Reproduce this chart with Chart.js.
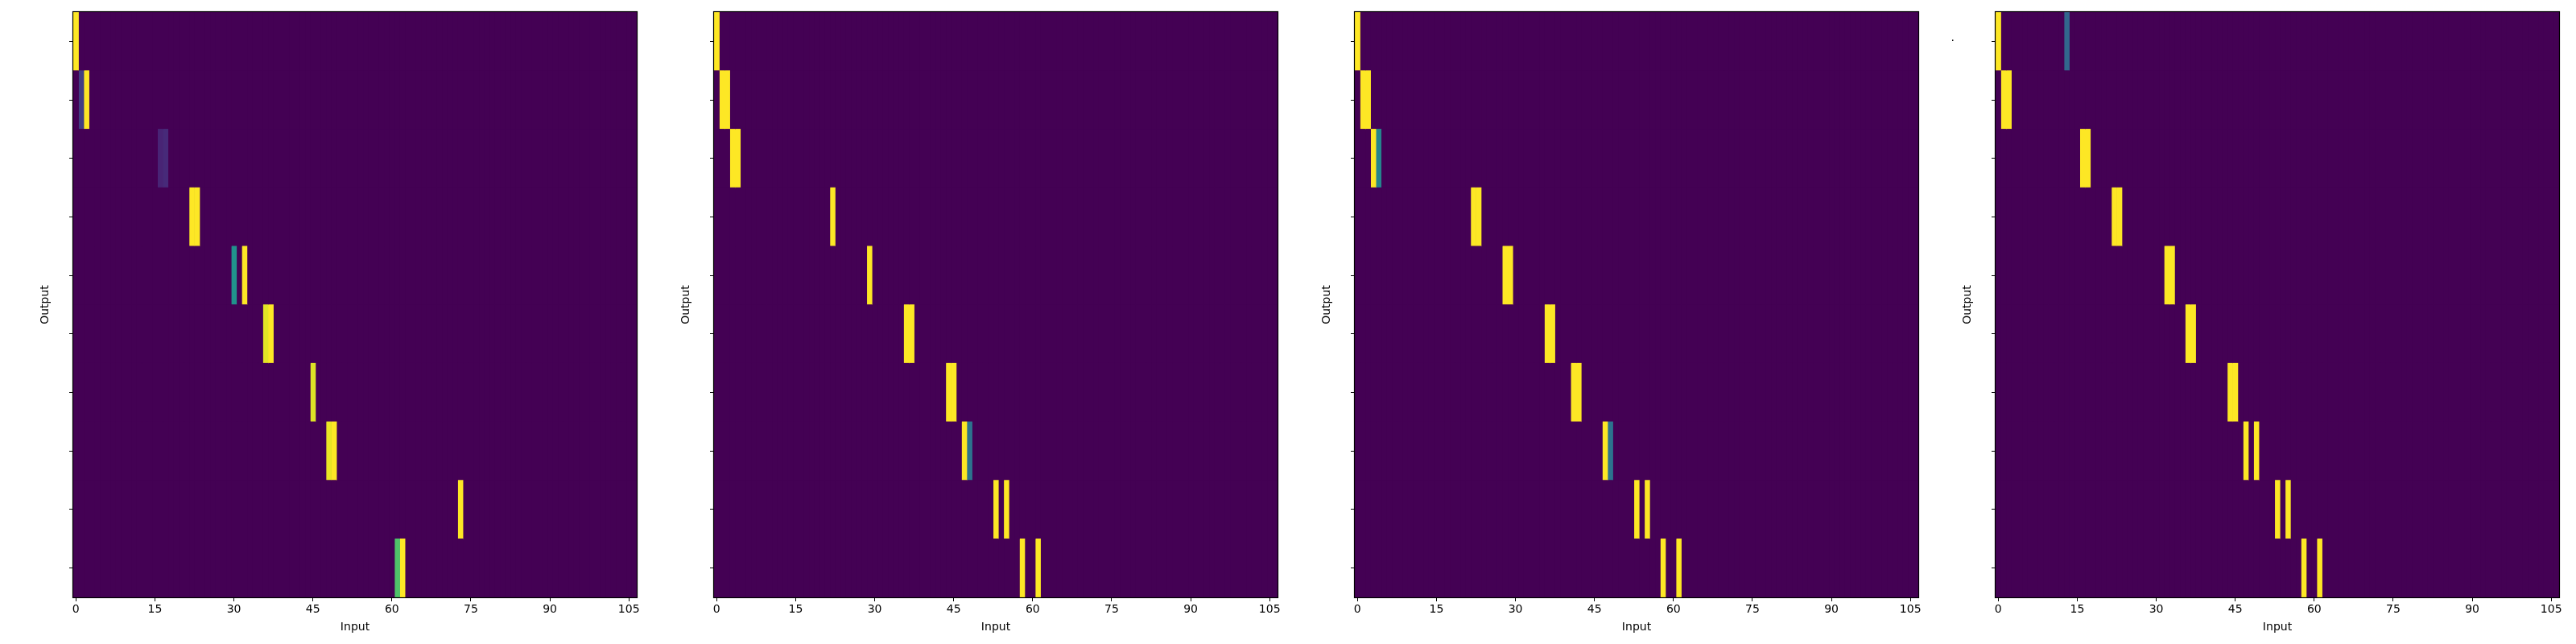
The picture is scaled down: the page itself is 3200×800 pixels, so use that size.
<!DOCTYPE html>
<html>
<head>
<meta charset="utf-8">
<script src="https://cdn.jsdelivr.net/npm/chart.js@4.4.1/dist/chart.umd.min.js"></script>
<style>
html,body{margin:0;padding:0;background:#fff;width:3200px;height:800px;overflow:hidden;}
canvas.panel{position:absolute;top:0;width:800px;height:800px;}
</style>
</head>
<body>
<canvas id="c0" class="panel" width="800" height="800" style="left:0px"></canvas>
<canvas id="c1" class="panel" width="800" height="800" style="left:796px"></canvas>
<canvas id="c2" class="panel" width="800" height="800" style="left:1592px"></canvas>
<canvas id="c3" class="panel" width="800" height="800" style="left:2388px"></canvas>
<script>
// ---- data ----
const outputRows = ['0','1','2','3','4','5','6','7','8','9'];
const inputCount = 107;
const xTickValues = [0, 15, 30, 45, 60, 75, 90, 105];
const xTickLabels = ['0', '15', '30', '45', '60', '75', '90', '105'];
const xAxisTitle = 'Input';
const yAxisTitle = 'Output';
const emptyRowLabels = ['', '', '', '', '', '', '', '', '', ''];
const panel4RowLabels = ['·', '', '', '', '', '', '', '', '', ''];

// non-zero cells: [output row, input column, weight]; all other cells are 0
const panel1Cells = [
  [0, 0, 1], [1, 1, 0.18], [1, 2, 1], [2, 16, 0.1], [2, 17, 0.12],
  [3, 22, 1], [3, 23, 1], [4, 30, 0.5], [4, 32, 1], [5, 36, 0.96], [5, 37, 1],
  [6, 45, 0.95], [7, 48, 0.97], [7, 49, 1], [8, 73, 1], [9, 61, 0.72], [9, 62, 1]
];
const panel2Cells = [
  [0, 0, 1], [1, 1, 1], [1, 2, 1], [2, 3, 1], [2, 4, 1], [3, 22, 1], [4, 29, 1],
  [5, 36, 1], [5, 37, 1], [6, 44, 1], [6, 45, 1], [7, 47, 1], [7, 48, 0.38],
  [8, 53, 1], [8, 55, 1], [9, 58, 1], [9, 61, 1]
];
const panel3Cells = [
  [0, 0, 1], [1, 1, 1], [1, 2, 1], [2, 3, 1], [2, 4, 0.45], [3, 22, 1], [3, 23, 1],
  [4, 28, 1], [4, 29, 1], [5, 36, 1], [5, 37, 1], [6, 41, 1], [6, 42, 1],
  [7, 47, 1], [7, 48, 0.38], [8, 53, 1], [8, 55, 1], [9, 58, 1], [9, 61, 1]
];
const panel4Cells = [
  [0, 0, 1], [0, 13, 0.33], [1, 1, 1], [1, 2, 1], [2, 16, 1], [2, 17, 1],
  [3, 22, 1], [3, 23, 1], [4, 32, 1], [4, 33, 1], [5, 36, 1], [5, 37, 1],
  [6, 44, 1], [6, 45, 1], [7, 47, 1], [7, 49, 1], [8, 53, 1], [8, 55, 1],
  [9, 58, 1], [9, 61, 1]
];

// ---- viridis colormap ----
const viridisStops = ['#440154','#482475','#414487','#355f8d','#2a788e','#21918c','#22a884','#44bf70','#7ad151','#bddf26','#fde725'];
function hexToRgb(h){return [parseInt(h.slice(1,3),16),parseInt(h.slice(3,5),16),parseInt(h.slice(5,7),16)];}
const viridisRgb = viridisStops.map(hexToRgb);
function viridis(t){
  t = Math.max(0, Math.min(1, t));
  const p = t * (viridisRgb.length - 1);
  const i = Math.min(Math.floor(p), viridisRgb.length - 2);
  const f = p - i;
  const a = viridisRgb[i], b = viridisRgb[i + 1];
  const c = a.map((v, k) => Math.round(v + (b[k] - v) * f));
  return 'rgb(' + c.join(',') + ')';
}

const FONT = {family: "'DejaVu Sans', sans-serif", size: 14};

const framePlugin = {
  id: 'frame',
  beforeDatasetsDraw(chart){
    const {ctx, chartArea: a} = chart;
    ctx.save();
    ctx.fillStyle = viridis(0);
    ctx.fillRect(a.left, a.top, a.right - a.left, a.bottom - a.top);
    ctx.restore();
  },
  afterDraw(chart){
    const {ctx, chartArea: a} = chart;
    ctx.save();
    ctx.strokeStyle = '#000';
    ctx.lineWidth = 1.2;
    ctx.strokeRect(a.left - 0.5, a.top - 0.5, a.right - a.left + 1, a.bottom - a.top + 1);
    ctx.restore();
  }
};

function makeChart(id, cells, rowTickLabels){
  const matrix = outputRows.map(() => new Array(inputCount).fill(0));
  cells.forEach(([r, c, v]) => { matrix[r][c] = v; });
  const datasets = [];
  for (let c = 0; c < inputCount; c++){
    datasets.push({
      data: outputRows.map(() => [c - 0.5, c + 0.5]),
      backgroundColor: outputRows.map((_, r) => viridis(matrix[r][c])),
      borderWidth: 0,
      barPercentage: 1,
      categoryPercentage: 1,
      grouped: false
    });
  }
  return new Chart(document.getElementById(id), {
    type: 'bar',
    data: {labels: outputRows, datasets},
    plugins: [framePlugin],
    options: {
      indexAxis: 'y',
      responsive: false,
      animation: false,
      devicePixelRatio: 1,
      events: [],
      layout: {padding: {left: 0, top: 15, right: 9, bottom: 0}},
      plugins: {legend: {display: false}, tooltip: {enabled: false}},
      scales: {
        x: {
          type: 'linear',
          min: -0.5,
          max: inputCount - 0.5,
          afterBuildTicks: s => { s.ticks = xTickValues.map(v => ({value: v})); },
          afterFit: s => { s.height = 58; s.paddingLeft = 0; s.paddingRight = 0; },
          ticks: {autoSkip: false, maxRotation: 0, padding: 2, color: '#000', font: FONT,
                  callback: (v, i) => xTickLabels[i]},
          grid: {drawOnChartArea: false, drawTicks: true, tickLength: 5, color: '#000', lineWidth: 1},
          border: {display: false},
          title: {display: true, text: xAxisTitle, color: '#000', font: FONT, padding: {top: 0, bottom: 12}}
        },
        y: {
          type: 'category',
          offset: true,
          afterFit: s => { s.width = 91; s.paddingTop = 0; s.paddingBottom = 0; },
          ticks: {autoSkip: false, padding: 46, color: '#000', font: FONT,
                  callback: (v, i) => rowTickLabels[i]},
          grid: {offset: false, drawOnChartArea: false, drawTicks: true, tickLength: 5, color: '#000', lineWidth: 1},
          border: {display: false},
          title: {display: true, text: yAxisTitle, color: '#000', font: FONT, padding: {top: 48, bottom: 0}}
        }
      }
    }
  });
}

makeChart('c0', panel1Cells, emptyRowLabels);
makeChart('c1', panel2Cells, emptyRowLabels);
makeChart('c2', panel3Cells, emptyRowLabels);
makeChart('c3', panel4Cells, panel4RowLabels);
</script>
</body>
</html>
